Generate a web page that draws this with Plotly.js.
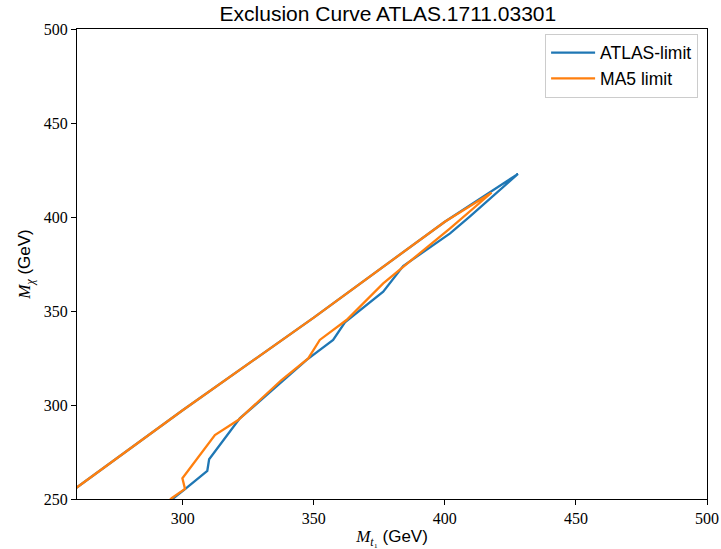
<!DOCTYPE html>
<html>
<head>
<meta charset="utf-8">
<script src="https://cdn.plot.ly/plotly-3.0.1.min.js"></script>
<style>html,body{margin:0;padding:0;background:#fff;}#chart{width:721px;height:549px;}</style>
</head>
<body>
<div id="chart"></div>
<script>
// ATLAS-limit contour (lower branch up to the tip, then upper branch back down)
var atlasX = [295.5, 296.5, 300.9, 309.4, 310.1, 321.8, 330.7, 347.3, 357.4, 361.9, 376.5, 384.1, 402.0, 409.5, 427.9, 400.0, 350.0, 300.0, 260.0, 255.0];
var atlasY = [249.5, 250.4, 255.2, 265.0, 271.1, 292.9, 303.6, 324.0, 334.6, 344.0, 360.3, 373.9, 391.3, 400.2, 422.9, 397.5, 346.5, 297.2, 256.5, 251.5];
// MA5 limit contour
var ma5X = [294.0, 295.8, 300.9, 299.9, 312.3, 321.2, 337.7, 347.9, 352.3, 362.5, 376.5, 402.0, 417.8, 400.0, 350.0, 300.0, 260.0, 255.0];
var ma5Y = [248.0, 250.4, 255.4, 261.0, 284.0, 292.0, 313.3, 324.8, 334.6, 345.2, 364.7, 394.0, 412.9, 397.5, 346.5, 297.2, 256.5, 251.5];

var xTicks = [300, 350, 400, 450, 500];
var yTicks = [250, 300, 350, 400, 450, 500];
var seriesNames = ["ATLAS-limit", "MA5 limit"];

var traces = [
  {x: atlasX, y: atlasY, mode: "lines", name: seriesNames[0], line: {color: "#1f77b4", width: 2.3}},
  {x: ma5X, y: ma5Y, mode: "lines", name: seriesNames[1], line: {color: "#ff7f0e", width: 2.3}}
];

var tickFont = {family: "Liberation Serif, serif", size: 16, color: "#000"};
var axisCommon = {
  showline: true, linecolor: "#000", linewidth: 1, mirror: true,
  ticks: "outside", ticklen: 5, tickwidth: 1, tickcolor: "#000",
  showgrid: false, zeroline: false, tickfont: tickFont
};

var layout = {
  width: 721, height: 549,
  margin: {l: 77, r: 14, t: 29, b: 50},
  paper_bgcolor: "#fff", plot_bgcolor: "#fff",
  showlegend: true,
  title: {
    text: "Exclusion Curve ATLAS.1711.03301",
    font: {family: "Liberation Sans, Arial, sans-serif", size: 21, color: "#000"},
    x: 0.538, xanchor: "center", y: 0.975, yanchor: "middle", yref: "container"
  },
  xaxis: Object.assign({}, axisCommon, {
    range: [259.7, 500], tickvals: xTicks, ticktext: xTicks.map(String),
    title: {
      text: "<span style=\"font-family:'Liberation Serif'\"><i>M</i></span><sub><span style=\"font-family:'Liberation Serif'\"><i>t</i>₁</span></sub> (GeV)",
      font: {family: "Liberation Sans, Arial, sans-serif", size: 17, color: "#000"},
      standoff: 6
    }
  }),
  yaxis: Object.assign({}, axisCommon, {
    range: [250, 500], tickvals: yTicks, ticktext: yTicks.map(String),
    title: {
      text: "<span style=\"font-family:'Liberation Serif'\"><i>M</i></span><sub><span style=\"font-family:'Liberation Serif'\"><i>χ</i></span></sub> (GeV)",
      font: {family: "Liberation Sans, Arial, sans-serif", size: 17, color: "#000"},
      standoff: 8
    }
  }),
  legend: {
    x: 0.743, xanchor: "left", y: 0.99, yanchor: "top",
    itemwidth: 44,
    bgcolor: "rgba(255,255,255,0.8)", bordercolor: "#cccccc", borderwidth: 1,
    font: {family: "Liberation Sans, Arial, sans-serif", size: 17.5, color: "#000"}
  }
};

Plotly.newPlot("chart", traces, layout, {displayModeBar: false, staticPlot: true});
</script>
</body>
</html>
